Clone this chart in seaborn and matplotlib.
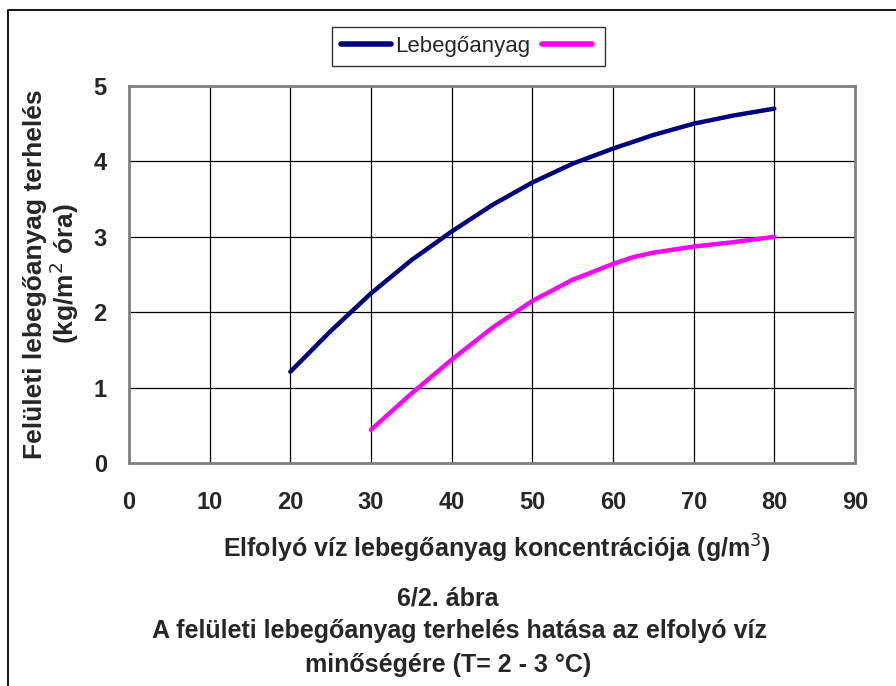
import matplotlib
matplotlib.use("Agg")
import matplotlib.pyplot as plt
import seaborn as sns
import pandas as pd
from matplotlib.lines import Line2D

# Data
x_navy = [20, 25, 30, 35, 40, 45, 50, 55, 60, 65, 70, 75, 80]
y_navy = [1.21, 1.75, 2.25, 2.69, 3.07, 3.42, 3.72, 3.97, 4.17, 4.35, 4.50, 4.61, 4.70]
x_mag = [30, 35, 40, 45, 50, 55, 60, 62.5, 65, 70, 75, 80]
y_mag = [0.44, 0.92, 1.37, 1.79, 2.15, 2.43, 2.64, 2.73, 2.79, 2.87, 2.93, 3.00]
series_names = ["Lebegőanyag", "_mag"]
x_ticks = [0, 10, 20, 30, 40, 50, 60, 70, 80, 90]
y_ticks = [0, 1, 2, 3, 4, 5]

df = pd.concat([
    pd.DataFrame({"x": x_navy, "y": y_navy, "s": series_names[0]}),
    pd.DataFrame({"x": x_mag, "y": y_mag, "s": series_names[1]}),
])

sns.set_style("white")
plt.rcParams['font.family'] = ['Liberation Sans', 'DejaVu Sans']

fig = plt.figure(figsize=(8.96, 6.86), dpi=100)
ax = fig.add_axes([129/896, 1-463/686, (855-129)/896, (463-86)/686])

sns.lineplot(data=df, x="x", y="y", hue="s",
             palette={series_names[0]: "#000080", series_names[1]: "#FF00FF"},
             linewidth=3.2, ax=ax, legend=False, sort=False,
             solid_capstyle="round", solid_joinstyle="round")

ax.set_xlim(0, 90)
ax.set_ylim(0, 5)
ax.set_xticks(x_ticks)
ax.set_yticks(y_ticks)
ax.grid(True, color="black", linewidth=0.9)
ax.set_axisbelow(True)
for sp in ax.spines.values():
    sp.set_visible(True)
    sp.set_color("#808080")
    sp.set_linewidth(2)
ax.tick_params(axis="both", which="both", length=6, width=1, color="black",
               direction="out", labelsize=17)
ax.tick_params(axis="x", pad=14)
ax.tick_params(axis="y", pad=10)
for lab in ax.get_xticklabels() + ax.get_yticklabels():
    lab.set_fontweight("bold")

ax.set_xlabel("Elfolyó víz lebegőanyag koncentrációja (g/m$^3$)",
              fontsize=18, fontweight="bold", va="center")
ax.xaxis.set_label_coords(0.507, (463-549)/377)
ax.set_ylabel("Felületi lebegőanyag terhelés\n(kg/m$^2$ óra)",
              fontsize=19, fontweight="bold", linespacing=1.05, va="center")
ax.yaxis.set_label_coords((52-129)/726, (463-274)/377)

# Legend
handles = [Line2D([], [], color="#000080", lw=4, solid_capstyle="round"),
           Line2D([], [], color="#FF00FF", lw=4, solid_capstyle="round")]
leg = fig.legend(handles, [series_names[0], ""], loc="center",
                 bbox_to_anchor=(468.5/896, 1-46.5/686), ncol=2, frameon=True,
                 fontsize=16, handlelength=2.25, handletextpad=0.2,
                 columnspacing=0.5, borderpad=0.4, fancybox=False)
leg.get_frame().set_edgecolor("black")
leg.get_frame().set_linewidth(1)

# Caption
fig.text(448/896, 1-599/686, "6/2. ábra", ha="center", va="center",
         fontsize=18, fontweight="bold")
fig.text(459/896, 1-631/686, "A felületi lebegőanyag terhelés hatása az elfolyó víz",
         ha="center", va="center", fontsize=18, fontweight="bold")
fig.text(448/896, 1-665/686, "minőségére (T= 2 - 3 °C)", ha="center", va="center",
         fontsize=18, fontweight="bold")

# Outer border (left and top)
fig.add_artist(Line2D([8/896, 8/896, 1.0], [0.0, 1-10/686, 1-10/686],
                      transform=fig.transFigure, color="black", lw=1.3))

fig.savefig("out.png", dpi=100)
